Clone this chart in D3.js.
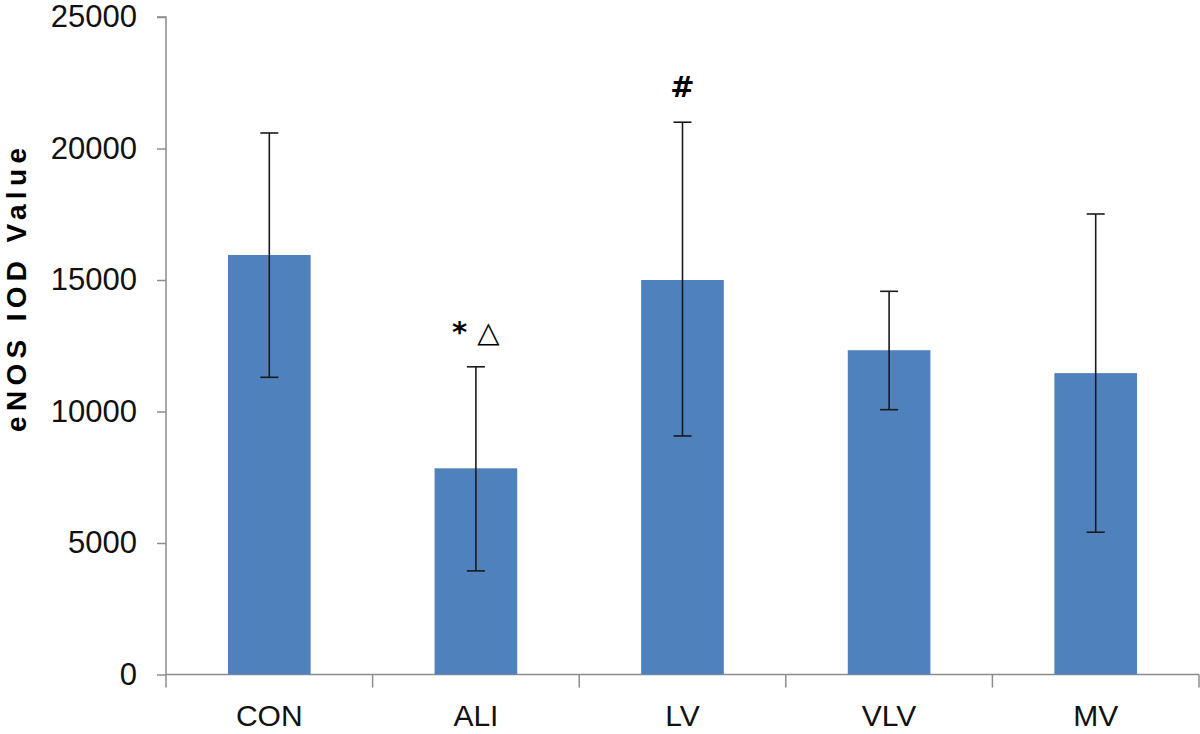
<!DOCTYPE html>
<html><head><meta charset="utf-8">
<script src="https://cdn.jsdelivr.net/npm/d3@7"></script>
<style>body{margin:0;background:#fff}svg{display:block}</style>
</head><body>
<svg id="c" width="1200" height="734"></svg>
<script>
const categories = ["CON","ALI","LV","VLV","MV"];
const means = [15950, 7840, 15000, 12330, 11460];
const upper = [20590, 11700, 21000, 14570, 17510];
const lower = [11300, 3940, 9070, 10070, 5410];
const marks = ["", "* \u25B3", "#", "", ""];
const yTicks = [0,5000,10000,15000,20000,25000];

const svg = d3.select("#c");
const x0 = 166, x1 = 1199, yTop = 17, yBot = 674.5;
const x = d3.scaleBand().domain(categories).range([x0,x1]).paddingInner(0.6).paddingOuter(0.3);
const y = d3.scaleLinear().domain([0,25000]).range([yBot,yTop]);
const font = "'Liberation Sans', Arial, sans-serif";

// y axis
const ya = svg.append("g").attr("transform",`translate(${x0},0)`)
  .call(d3.axisLeft(y).tickValues(yTicks).tickSize(9).tickPadding(20).tickFormat(d3.format("d")));
ya.selectAll("path,line").attr("stroke","#8c8c8c").attr("stroke-width",1.5);
ya.select(".domain").attr("d",`M-9,${yTop}H0V${yBot}`);
ya.selectAll("text").attr("font-family",font).attr("font-size",31).attr("fill","#111");

// x axis with boundary ticks
const xg = svg.append("g");
xg.append("line").attr("x1",x0).attr("x2",x1).attr("y1",yBot).attr("y2",yBot).attr("stroke","#8c8c8c").attr("stroke-width",1.5);
const bounds = d3.range(categories.length+1).map(i=>x0+i*(x1-x0)/categories.length);
xg.selectAll("line.b").data(bounds).join("line").attr("class","b")
  .attr("x1",d=>d).attr("x2",d=>d).attr("y1",yBot).attr("y2",yBot+13)
  .attr("stroke","#8c8c8c").attr("stroke-width",1.5);
xg.selectAll("text").data(categories).join("text")
  .attr("x",d=>x(d)+x.bandwidth()/2).attr("y",yBot+51)
  .attr("text-anchor","middle").attr("font-family",font).attr("font-size",30).attr("fill","#111").text(d=>d);

// bars
svg.append("g").selectAll("rect").data(categories).join("rect")
  .attr("x",d=>x(d)).attr("width",x.bandwidth())
  .attr("y",(d,i)=>y(means[i])).attr("height",(d,i)=>y(0)-y(means[i]))
  .attr("fill","#4F81BD");

// error bars
const eg = svg.append("g").attr("stroke","#1a1a1a").attr("stroke-width",1.6);
categories.forEach((c,i)=>{
  const cx = x(c)+x.bandwidth()/2;
  eg.append("line").attr("x1",cx).attr("x2",cx).attr("y1",y(upper[i])).attr("y2",y(lower[i]));
  [upper[i],lower[i]].forEach(v=>eg.append("line").attr("x1",cx-9).attr("x2",cx+9).attr("y1",y(v)).attr("y2",y(v)));
});

// significance marks
svg.append("g").selectAll("text").data(categories).join("text")
  .attr("x",d=>x(d)+x.bandwidth()/2)
  .attr("y",(d,i)=>y(upper[i])-25)
  .attr("text-anchor","middle").attr("font-family","'DejaVu Sans', sans-serif").attr("font-weight","bold").attr("font-size",29).attr("fill","#000")
  .text((d,i)=>marks[i]);

// y title
svg.append("text").attr("transform","translate(26,290) rotate(-90)")
  .attr("text-anchor","middle").attr("font-family",font).attr("font-weight","bold").attr("font-size",28)
  .attr("textLength",284).attr("lengthAdjust","spacing").attr("fill","#000")
  .text("eNOS IOD Value");
</script>
</body></html>
